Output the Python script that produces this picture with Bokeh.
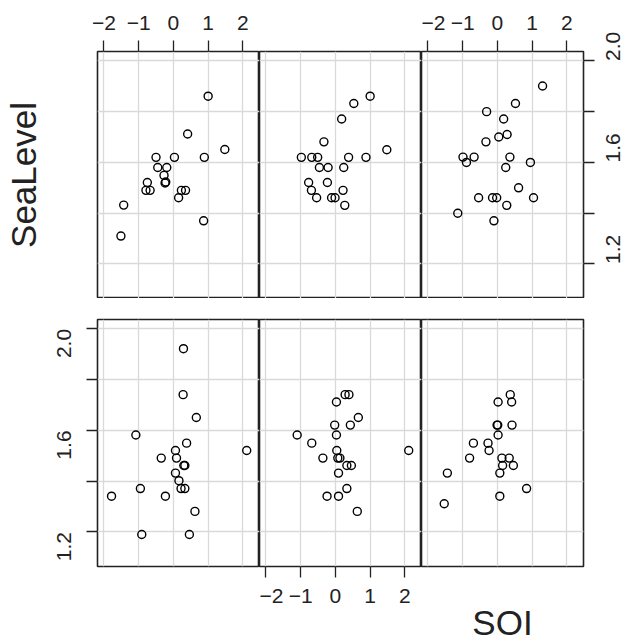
import math
from bokeh.plotting import figure
from bokeh.layouts import gridplot
from bokeh.models import (LinearAxis, FixedTicker, Range1d, Grid,
                          NumeralTickFormatter)
from bokeh.embed import file_html
from bokeh.resources import INLINE

# ---------------- data ----------------
x_ticks = [-2, -1, 0, 1, 2]
x_tick_labels = {-2: "\u22122", -1: "\u22121", 0: "0", 1: "1", 2: "2"}
y_major = [1.2, 1.6, 2.0]
y_minor = [1.4, 1.8]
y_grid = [1.2, 1.4, 1.6, 1.8, 2.0]
x_label = "SOI"
y_label = "SeaLevel"

soi_tl = [1.00, 0.41, 1.48, -0.50, 0.03, 0.89, -0.45, -0.19, -0.27, -0.22, -0.24,
          -0.75, -0.79, -0.67, 0.23, 0.35, 0.15, -1.43, 0.87, -1.51]
sea_tl = [1.861, 1.712, 1.651, 1.620, 1.620, 1.620, 1.580, 1.580, 1.549, 1.523, 1.519,
          1.521, 1.490, 1.490, 1.490, 1.490, 1.461, 1.432, 1.370, 1.310]

soi_tm = [1.00, 0.53, 0.18, -0.33, 1.48, -0.98, -0.68, -0.51, 0.38, 0.88, -0.46,
          -0.21, 0.24, -0.77, -0.23, -0.69, 0.22, -0.54, -0.11, -0.01, 0.27]
sea_tm = [1.861, 1.832, 1.771, 1.681, 1.650, 1.620, 1.620, 1.620, 1.620, 1.620, 1.580,
          1.580, 1.580, 1.521, 1.521, 1.490, 1.490, 1.461, 1.461, 1.461, 1.431]

soi_tr = [1.30, 0.52, -0.31, 0.18, 0.28, 0.04, -0.33, -0.99, -0.67, 0.36, -0.89,
          0.95, 0.24, 0.61, -0.54, -0.14, -0.02, 1.04, 0.27, -1.14, -0.10]
sea_tr = [1.901, 1.832, 1.800, 1.771, 1.710, 1.700, 1.681, 1.621, 1.621, 1.621, 1.600,
          1.600, 1.580, 1.500, 1.461, 1.461, 1.461, 1.461, 1.431, 1.400, 1.370]

soi_bl = [0.29, 0.28, 0.66, -1.08, 0.38, 2.11, 0.06, -0.35, 0.09, 0.30, 0.33,
          0.06, 0.16, -0.95, 0.22, 0.33, -1.78, -0.23, 0.62, -0.91, 0.46]
sea_bl = [1.922, 1.741, 1.651, 1.582, 1.550, 1.521, 1.521, 1.491, 1.491, 1.462, 1.462,
          1.432, 1.402, 1.371, 1.371, 1.371, 1.341, 1.341, 1.281, 1.190, 1.190]

soi_bm = [0.28, 0.39, 0.03, 0.66, -0.02, 0.43, -1.10, 0.03, -0.68, 2.11, 0.04,
          -0.36, 0.07, 0.13, 0.33, 0.46, 0.09, 0.33, -0.24, 0.09, 0.63]
sea_bm = [1.741, 1.741, 1.712, 1.651, 1.621, 1.621, 1.582, 1.582, 1.550, 1.521, 1.521,
          1.491, 1.491, 1.491, 1.462, 1.462, 1.432, 1.371, 1.341, 1.341, 1.281]

soi_br = [0.37, 0.02, 0.41, -0.01, 0.01, 0.42, 0.02, -0.69, -0.27, -0.24, -0.80,
          0.13, 0.34, 0.15, 0.46, 0.07, -1.44, 0.84, 0.07, -1.53]
sea_br = [1.741, 1.712, 1.712, 1.621, 1.621, 1.621, 1.582, 1.550, 1.550, 1.521, 1.491,
          1.491, 1.491, 1.462, 1.462, 1.432, 1.432, 1.371, 1.341, 1.311]

# ---------------- style ----------------
X_RANGE = (-2.184, 2.478)
Y_RANGE = (1.064, 2.037)
FONT = "Liberation Sans"
INK = "#222222"
FW, FH = 162, 247
LEFT, RIGHT = 97, 41
TOP, GAP, BOTTOM = 51, 21, 72


def make_panel(xs, ys, bl, br, bt, bb):
    p = figure(frame_width=FW, frame_height=FH,
               x_range=Range1d(*X_RANGE), y_range=Range1d(*Y_RANGE),
               x_axis_location=None, y_axis_location=None,
               toolbar_location=None, output_backend="svg",
               min_border_left=bl, min_border_right=br,
               min_border_top=bt, min_border_bottom=bb)
    p.renderers = [r for r in p.renderers if not isinstance(r, Grid)]
    p.center = [r for r in p.center if not isinstance(r, Grid)]
    gx = Grid(dimension=0, ticker=FixedTicker(ticks=x_ticks),
              grid_line_color="#d9d9d9", grid_line_width=1.3)
    gy = Grid(dimension=1, ticker=FixedTicker(ticks=y_grid),
              grid_line_color="#d9d9d9", grid_line_width=1.3)
    p.add_layout(gx, "center")
    p.add_layout(gy, "center")
    p.outline_line_color = INK
    p.outline_line_width = 1.6
    p.background_fill_color = "white"
    p.border_fill_color = "white"
    p.scatter(xs, ys, size=8, fill_color=None, line_color="black", line_width=1.4)
    return p


def x_axis(standoff):
    return LinearAxis(ticker=FixedTicker(ticks=x_ticks, minor_ticks=[]),
                      major_label_overrides=x_tick_labels,
                      axis_line_color=None, major_tick_in=0, major_tick_out=11,
                      major_tick_line_color=INK, major_tick_line_width=1.3,
                      minor_tick_line_color=None,
                      major_label_text_font=FONT, major_label_text_font_size="21px",
                      major_label_text_color=INK, major_label_standoff=standoff)


def y_axis(standoff):
    return LinearAxis(ticker=FixedTicker(ticks=y_major, minor_ticks=y_minor),
                      formatter=NumeralTickFormatter(format="0.0"),
                      axis_line_color=None, major_tick_in=0, major_tick_out=11,
                      minor_tick_in=0, minor_tick_out=11,
                      major_tick_line_color=INK, major_tick_line_width=1.3,
                      minor_tick_line_color=INK, minor_tick_line_width=1.3,
                      major_label_orientation=math.pi / 2,
                      major_label_text_font=FONT, major_label_text_font_size="21px",
                      major_label_text_color=INK, major_label_standoff=standoff)


def label_axis(text, standoff):
    # an axis without ticks that only carries a title outside the frame
    return LinearAxis(ticker=FixedTicker(ticks=[], minor_ticks=[]),
                      axis_line_color=None, major_tick_out=0, major_tick_in=0,
                      minor_tick_out=0, minor_tick_in=0, major_label_standoff=0,
                      axis_label=text, axis_label_standoff=standoff,
                      axis_label_text_font=FONT, axis_label_text_font_size="35px",
                      axis_label_text_font_style="normal",
                      axis_label_text_color=INK)


p_tl = make_panel(soi_tl, sea_tl, LEFT, 0, TOP, 0)
p_tm = make_panel(soi_tm, sea_tm, 0, 0, TOP, 0)
p_tr = make_panel(soi_tr, sea_tr, 0, RIGHT, TOP, 0)
p_bl = make_panel(soi_bl, sea_bl, LEFT, 0, GAP, BOTTOM)
p_bm = make_panel(soi_bm, sea_bm, 0, 0, GAP, BOTTOM)
p_br = make_panel(soi_br, sea_br, 0, RIGHT, GAP, BOTTOM)

p_tl.add_layout(x_axis(11), "above")
p_tr.add_layout(x_axis(11), "above")
p_bm.add_layout(x_axis(11), "below")
p_tr.add_layout(y_axis(19), "right")
p_bl.add_layout(y_axis(22), "left")

p_tl.add_layout(label_axis(y_label, 55), "left")
p_br.add_layout(label_axis(x_label, 36), "below")

grid = gridplot([[p_tl, p_tm, p_tr], [p_bl, p_bm, p_br]], toolbar_location=None)

open("out.html", "w").write(file_html(grid, INLINE))
